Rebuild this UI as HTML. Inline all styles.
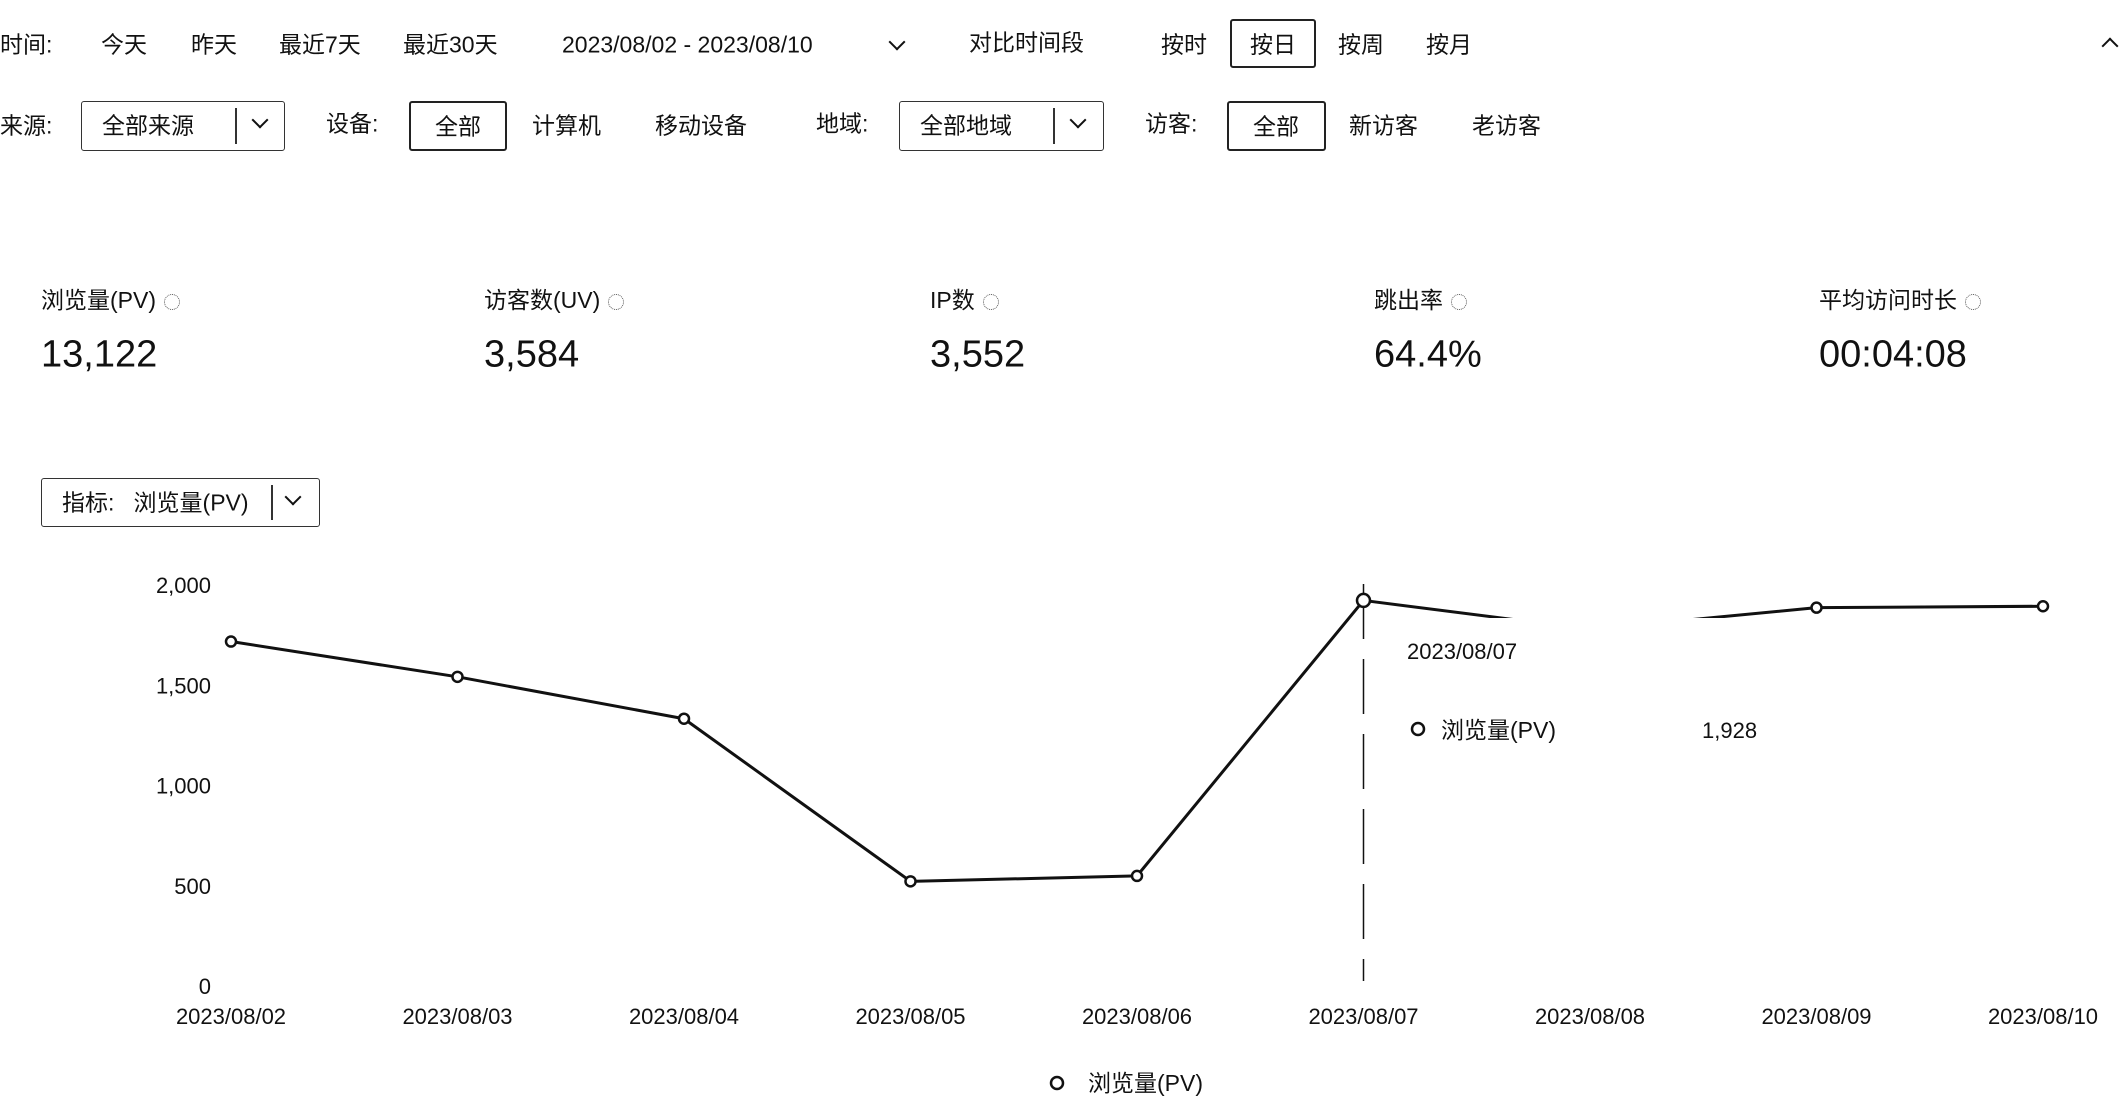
<!DOCTYPE html>
<html><head><meta charset="utf-8"><style>
html,body{margin:0;padding:0;background:#fff;width:2122px;height:1108px;overflow:hidden;position:relative;font-family:"Liberation Sans","Noto Sans CJK SC",sans-serif;color:#111}
.t{position:absolute;font-size:23px;line-height:1;white-space:nowrap;transform:translateY(-50%)}
.box{position:absolute;border:2px solid #222;border-radius:3px;box-sizing:border-box;background:#fff}
.sel{position:absolute;border:1.5px solid #333;border-radius:3px;box-sizing:border-box}
.sel .dv{position:absolute;top:6px;bottom:6px;width:1.5px;background:#333}
.chev{position:absolute;width:10px;height:10px;border-right:2.5px solid #111;border-bottom:2.5px solid #111;transform:rotate(45deg)}
.lab{position:absolute;font-size:23px;transform:translateY(-50%);white-space:nowrap}
.val{position:absolute;font-size:38px;transform:translateY(-50%);white-space:nowrap}
.q{display:inline-block;width:14px;height:14px;border:1.5px dotted #555;border-radius:50%;margin-left:8px;vertical-align:middle}
</style></head><body>
<div class="t" style="left:0;top:45px">时间:</div>
<div class="t" style="left:101px;top:45px">今天</div>
<div class="t" style="left:191px;top:45px">昨天</div>
<div class="t" style="left:279px;top:45px">最近7天</div>
<div class="t" style="left:403px;top:45px">最近30天</div>
<div class="t" style="left:562px;top:45px">2023/08/02 - 2023/08/10</div>
<div class="chev" style="left:891px;top:36px"></div>
<div class="t" style="left:969px;top:43px">对比时间段</div>
<div class="t" style="left:1161px;top:45px">按时</div>
<div class="box" style="left:1230px;top:19px;width:86px;height:49px"><div class="t" style="left:18px;top:24px">按日</div></div>
<div class="t" style="left:1338px;top:45px">按周</div>
<div class="t" style="left:1426px;top:45px">按月</div>
<div class="chev" style="left:2104px;top:40px;transform:rotate(225deg)"></div>

<div class="t" style="left:0;top:126px">来源:</div>
<div class="sel" style="left:81px;top:101px;width:204px;height:50px"><div class="t" style="left:20px;top:24px">全部来源</div><div class="dv" style="left:153px"></div><div class="chev" style="left:172px;top:12px"></div></div>
<div class="t" style="left:326px;top:124px">设备:</div>
<div class="box" style="left:409px;top:101px;width:98px;height:50px"><div class="t" style="left:24px;top:24px">全部</div></div>
<div class="t" style="left:532px;top:126px">计算机</div>
<div class="t" style="left:655px;top:126px">移动设备</div>
<div class="t" style="left:816px;top:124px">地域:</div>
<div class="sel" style="left:899px;top:101px;width:205px;height:50px"><div class="t" style="left:20px;top:24px">全部地域</div><div class="dv" style="left:153px"></div><div class="chev" style="left:172px;top:12px"></div></div>
<div class="t" style="left:1145px;top:124px">访客:</div>
<div class="box" style="left:1227px;top:101px;width:99px;height:50px"><div class="t" style="left:24px;top:24px">全部</div></div>
<div class="t" style="left:1349px;top:126px">新访客</div>
<div class="t" style="left:1472px;top:126px">老访客</div>

<div class="lab" style="left:41px;top:298px">浏览量(PV)<span class="q"></span></div>
<div class="val" style="left:41px;top:355px">13,122</div>
<div class="lab" style="left:484px;top:298px">访客数(UV)<span class="q"></span></div>
<div class="val" style="left:484px;top:355px">3,584</div>
<div class="lab" style="left:930px;top:298px">IP数<span class="q"></span></div>
<div class="val" style="left:930px;top:355px">3,552</div>
<div class="lab" style="left:1374px;top:298px">跳出率<span class="q"></span></div>
<div class="val" style="left:1374px;top:355px">64.4%</div>
<div class="lab" style="left:1819px;top:298px">平均访问时长<span class="q"></span></div>
<div class="val" style="left:1819px;top:355px">00:04:08</div>

<div class="sel" style="left:41px;top:478px;width:279px;height:49px"><div class="t" style="left:20px;top:24px">指标:&nbsp;&nbsp;&nbsp;浏览量(PV)</div><div class="dv" style="left:229px"></div><div class="chev" style="left:245px;top:12px"></div></div>

<svg id="chart" width="2122" height="1108" style="position:absolute;left:0;top:0"></svg>
<script>
const categories=["2023/08/02","2023/08/03","2023/08/04","2023/08/05","2023/08/06","2023/08/07","2023/08/08","2023/08/09","2023/08/10"];
const pvValues=[1723,1547,1338,527,554,1928,1784,1892,1899];
const yTicks=[0,500,1000,1500,2000];
const yTickLabels=["0","500","1,000","1,500","2,000"];
const hoverIndex=5;
const NS="http://www.w3.org/2000/svg";
const svg=document.getElementById('chart');
const X0=231,X1=2043,Y0=987,Y1=586,YMAX=2000;
const xs=i=>X0+(X1-X0)*i/(categories.length-1);
const ys=v=>Y0-(Y0-Y1)*v/YMAX;
function mk(tag,attrs,parent){const e=document.createElementNS(NS,tag);for(const k in attrs)e.setAttribute(k,attrs[k]);(parent||svg).appendChild(e);return e;}
const F='"Liberation Sans","Noto Sans CJK SC",sans-serif';
yTicks.forEach((v,i)=>{const t=mk('text',{x:211,y:ys(v)+7,'text-anchor':'end','font-size':22,'font-family':F,fill:'#111'});t.textContent=yTickLabels[i];

});
categories.forEach((c,i)=>{const t=mk('text',{x:xs(i),y:1024,'text-anchor':'middle','font-size':22,'font-family':F,fill:'#111'});t.textContent=c;

});
const cross=mk('line',{x1:xs(hoverIndex),x2:xs(hoverIndex),y1:Y1-2,y2:Y0-6,stroke:'#111','stroke-width':1.5,'stroke-dasharray':'55,20'});


const line=mk('polyline',{points:pvValues.map((v,i)=>xs(i)+','+ys(v)).join(' '),fill:'none',stroke:'#111','stroke-width':3,'stroke-linejoin':'round'});


pvValues.forEach((v,i)=>{if(i===6)return;const c=mk('circle',{cx:xs(i),cy:ys(v),r:i===hoverIndex?6.5:5,fill:'#fff',stroke:'#111','stroke-width':2.5});

});
// tooltip
const tg=mk('g',{});


mk('rect',{x:xs(hoverIndex)+14,y:618,width:390,height:160,fill:'#fff'},tg);
const td=mk('text',{x:1407,y:659,'font-size':22,'font-family':F,fill:'#111'},tg);td.textContent=categories[hoverIndex];
mk('circle',{cx:1418,cy:729,r:6,fill:'#fff',stroke:'#111','stroke-width':2.5},tg);
const tl=mk('text',{x:1441,y:738,'font-size':23,'font-family':F,fill:'#111'},tg);tl.textContent='浏览量(PV)';
const tv=mk('text',{x:1702,y:738,'font-size':22,'font-family':F,fill:'#111'},tg);tv.textContent=pvValues[hoverIndex].toLocaleString('en-US');
// legend
const lg=mk('g',{});


mk('circle',{cx:1057,cy:1083,r:6,fill:'#fff',stroke:'#111','stroke-width':2.5},lg);
const lt=mk('text',{x:1088,y:1091,'font-size':23,'font-family':F,fill:'#111'},lg);lt.textContent='浏览量(PV)';
</script>
</body></html>
